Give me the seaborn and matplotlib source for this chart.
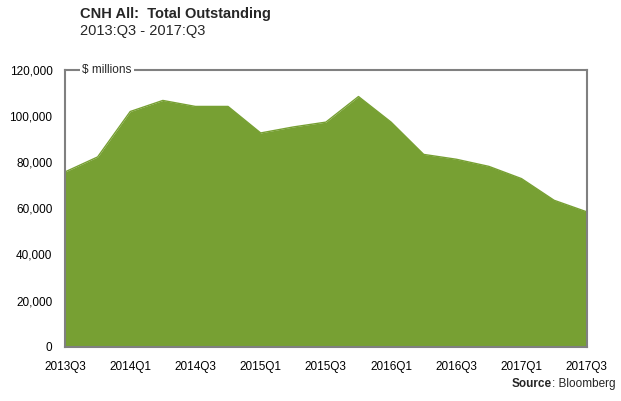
import matplotlib
matplotlib.use("Agg")
import matplotlib.pyplot as plt
import seaborn as sns
import pandas as pd

# datos (millones de USD)
trimestres = ["2013Q3", "2013Q4", "2014Q1", "2014Q2", "2014Q3", "2014Q4",
              "2015Q1", "2015Q2", "2015Q3", "2015Q4", "2016Q1", "2016Q2",
              "2016Q3", "2016Q4", "2017Q1", "2017Q2", "2017Q3"]
saldo = [75800, 82300, 102000, 106800, 104200, 104200,
         92700, 95300, 97400, 108500, 97400, 83400,
         81300, 78200, 72900, 63500, 58500]
yticks = [0, 20000, 40000, 60000, 80000, 100000, 120000]

df = pd.DataFrame({"trimestre": trimestres, "saldo": saldo})
df["pos"] = range(len(df))

sns.set_style("white")
plt.rcParams["font.family"] = ["Liberation Sans", "DejaVu Sans"]

verde = "#77A033"
gris = "#808080"

fig = plt.figure(figsize=(6.21, 4.01), dpi=100)
ax = fig.add_axes([0.1047, 0.1354, 0.8401, 0.69])

ax.fill_between(df["pos"], df["saldo"], 0, color=verde, linewidth=0)
sns.lineplot(data=df, x="pos", y="saldo", color=verde, linewidth=1.0, ax=ax)

ax.set_xlim(0, len(df) - 1)
ax.set_ylim(0, 120000)
ax.set_xticks(df["pos"][::2])
ax.set_xticklabels(df["trimestre"][::2])
ax.set_yticks(yticks)
ax.set_yticklabels([f"{v:,}" for v in yticks])
ax.tick_params(axis="both", length=0, labelsize=8.5, colors="black")
ax.tick_params(axis="y", pad=9)
ax.tick_params(axis="x", pad=10)
ax.set_xlabel("")
ax.set_ylabel("")

for s in ax.spines.values():
    s.set_color(gris)
    s.set_linewidth(1.5)

ax.text(0.033, 1.0, "$ millions", transform=ax.transAxes, fontsize=8.5,
        va="center", ha="left",
        bbox=dict(facecolor="white", edgecolor="none", pad=1.5))

fig.text(80 / 621, 1 - 14 / 401, "CNH All:  Total Outstanding",
         fontsize=10.5, fontweight="bold", va="center", ha="left")
fig.text(80 / 621, 1 - 31 / 401, "2013:Q3 - 2017:Q3",
         fontsize=10.5, va="center", ha="left")

# "Source" en negrita pegado a ": Bloomberg"
fuente = fig.text(615 / 621, 1 - 384 / 401, ": Bloomberg",
                  fontsize=8.5, va="center", ha="right")
ax.annotate("Source", xy=(0, 0.5), xycoords=fuente, fontsize=8.5,
            fontweight="bold", va="center", ha="right")

fig.savefig("out.png", dpi=100)
